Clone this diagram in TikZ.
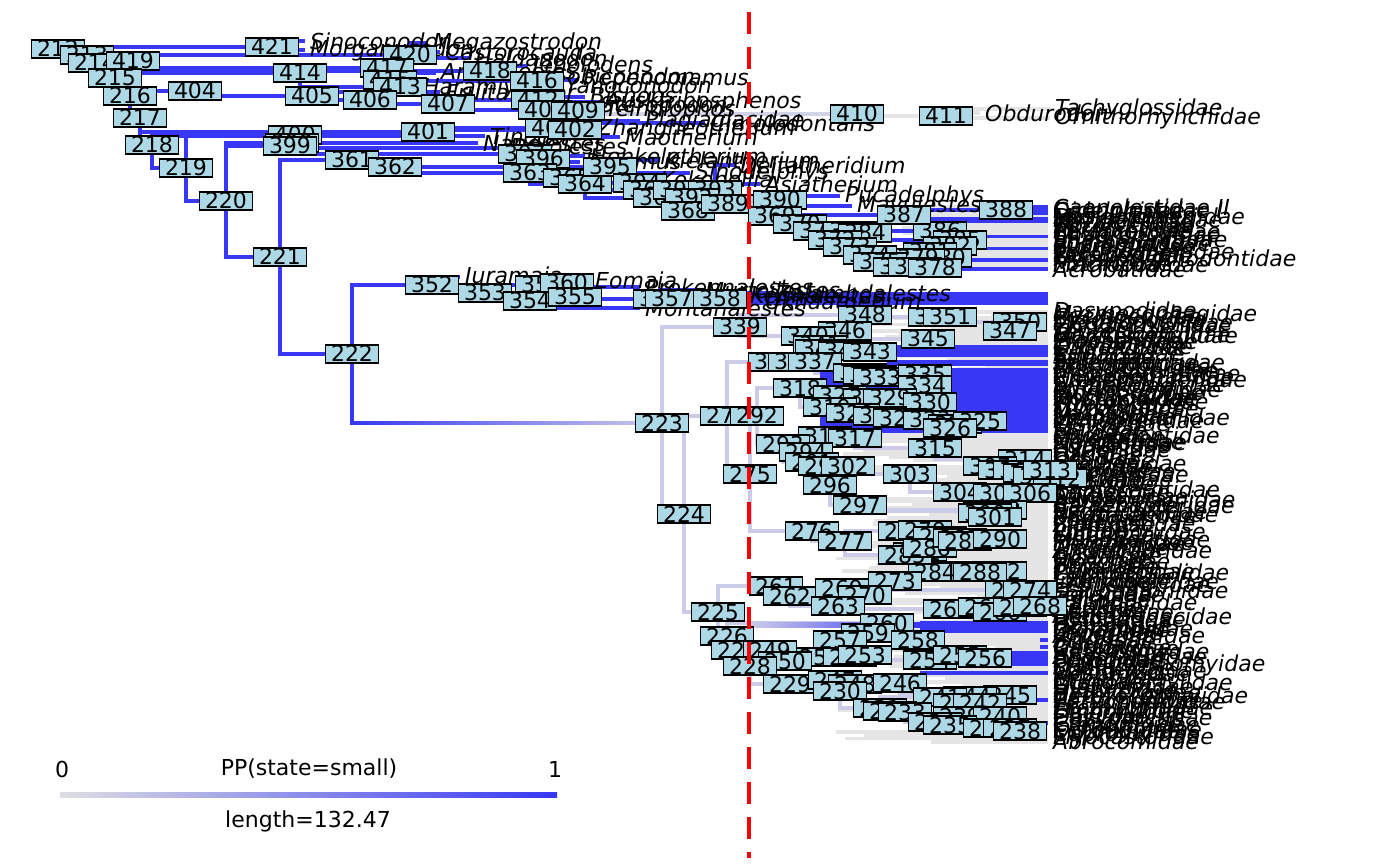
\documentclass[tikz,border=0pt]{standalone}
\usepackage{fontspec}
\setmainfont{DejaVu Sans}
\usetikzlibrary{calc}
\definecolor{blu}{RGB}{55,55,245}
\definecolor{lav}{RGB}{204,204,232}
\definecolor{gry}{RGB}{229,229,229}
\definecolor{lgr}{RGB}{222,222,226}
\definecolor{lb}{RGB}{173,216,230}
\definecolor{rdd}{RGB}{250,0,0}
\newcommand\nlfont{\fontsize{22}{22}\selectfont}
\newcommand\tipfont{\fontsize{22}{22}\selectfont\itshape}
\newcommand\legfont{\fontsize{22}{22}\selectfont}
\def\mynodes{212/58/49, 213/87/55, 214/95/63, 419/133/61, 215/115/78, 216/130/96, 404/195/91, 217/140/118, 218/152/145, 219/186/168, 220/226/201, 221/280/257, 222/352/354, 421/272/47, 420/410/55, 414/300/73, 417/387/68, 415/390/80, 413/400/87, 418/490/71, 416/537/81, 405/312/96, 406/370/100, 407/448/104, 412/538/100, 408/545/110, 409/578/111, 403/552/128, 402/575/130, 401/428/132, 400/295/135, 398/292/143, 399/290/146, 361/352/160, 397/525/154, 396/543/159, 362/395/167, 363/530/173, 365/570/178, 364/585/184, 395/610/167, 394/640/183, 366/650/190, 367/660/198, 391/680/190, 393/715/190, 392/692/198, 368/688/211, 389/728/204, 390/780/200, 369/775/216, 370/800/224, 371/820/231, 383/850/231, 384/865/233, 386/940/231, 385/960/240, 382/950/246, 381/930/252, 380/945/258, 379/918/258, 387/904/215, 388/1006/210, 372/835/240, 373/850/247, 374/870/255, 375/880/262, 376/900/267, 377/915/267, 378/935/268, 410/857/114, 411/946/116, 352/432/285, 353/485/293, 359/542/285, 360/567/283, 354/530/301, 355/575/297, 356/660/299, 357/672/299, 358/720/299, 223/662/423, 224/684/514, 225/718/612, 339/740/327, 348/865/315, 349/935/317, 351/950/317, 350/1020/322, 347/1010/331, 345/928/339, 346/845/331, 340/808/336, 341/820/345, 344/822/349, 342/845/351, 343/870/352, 338/775/362, 336/795/362, 337/815/362, 331/860/373, 332/870/375, 333/880/377, 335/925/374, 334/925/385, 318/800/388, 327/840/395, 328/870/398, 329/890/398, 330/930/402, 319/830/407, 320/853/413, 321/880/416, 322/900/418, 323/930/420, 324/955/424, 325/980/421, 326/950/428, 272/727/416, 292/757/416, 316/825/436, 317/855/438, 293/783/444, 294/806/452, 315/935/448, 314/1025/459, 291/812/462, 295/825/466, 302/848/466, 307/990/466, 308/1005/470, 309/1020/470, 310/1030/473, 311/1040/476, 312/1060/478, 313/1050/470, 275/750/474, 303/910/474, 296/830/485, 304/960/492, 305/1000/493, 306/1030/493, 297/860/505, 298/1000/510, 299/990/511, 300/985/513, 301/995/517, 276/812/531, 277/845/541, 278/905/531, 279/925/530, 280/940/536, 281/920/552, 282/1000/571, 283/960/571, 284/935/572, 285/905/555, 286/930/548, 287/960/538, 288/980/572, 289/965/541, 290/1000/539, 273/895/581, 261/776/586, 262/790/596, 269/842/588, 270/865/595, 271/1012/590, 274/1030/590, 263/838/606, 264/950/609, 265/985/607, 266/1000/612, 267/1020/607, 268/1040/606, 260/887/623, 226/727/636, 259/868/633, 258/918/640, 257/840/640, 251/820/657, 252/850/657, 253/865/655, 254/930/660, 255/960/655, 256/985/658, 227/738/650, 249/770/650, 250/785/661, 228/750/666, 229/790/684, 247/835/680, 248/855/684, 246/900/683, 230/840/691, 245/1010/695, 244/970/696, 241/940/697, 243/960/703, 242/980/703, 231/880/708, 232/890/711, 233/905/712, 239/960/716, 240/1000/716, 234/935/722, 235/950/725, 236/990/728, 237/1010/728, 238/1020/731}
\def\myblueedges{212/421, 212/213, 213/420, 213/214, 214/419, 214/215, 419/418, 419/417, 417/415, 415/416, 215/414, 215/216, 414/413, 216/404, 216/217, 404/405, 405/406, 406/407, 407/412, 407/408, 408/409, 217/401, 217/218, 401/403, 401/402, 218/219, 219/400, 219/220, 220/398, 220/399, 220/221, 399/397, 397/396, 221/361, 221/222, 361/362, 362/363, 362/395, 395/394, 394/393, 393/390, 363/365, 363/364, 364/366, 364/367, 367/391, 367/392, 392/368, 392/389, 390/369, 369/370, 369/387, 387/388, 370/371, 370/383, 371/372, 372/373, 373/374, 374/375, 375/376, 376/377, 377/378, 383/384, 384/386, 384/385, 385/382, 382/381, 381/380, 380/379, 222/352, 352/353, 353/359, 353/354, 359/360, 354/355, 355/356, 355/357, 357/358, 222/223}
\def\mylavedges{223/339, 223/224, 339/348, 339/340, 348/349, 348/345, 349/351, 351/350, 350/347, 340/346, 340/341, 341/344, 344/342, 344/343, 224/272, 224/225, 272/338, 272/275, 338/336, 338/337, 337/331, 331/332, 332/333, 333/335, 333/334, 275/292, 275/276, 292/318, 292/293, 318/319, 318/327, 327/328, 328/329, 329/330, 319/320, 320/321, 321/322, 322/323, 323/324, 324/325, 323/326, 293/316, 293/294, 293/291, 316/317, 317/315, 315/314, 314/313, 313/312, 313/307, 307/308, 308/309, 309/310, 310/311, 294/295, 295/302, 295/296, 302/303, 303/304, 304/305, 305/306, 296/297, 297/298, 297/299, 299/300, 300/301, 276/277, 277/278, 278/279, 279/280, 280/287, 287/289, 289/290, 277/285, 285/286, 285/281, 281/284, 284/283, 283/288, 288/282, 225/261, 225/226, 261/262, 262/269, 269/270, 269/273, 262/263, 263/264, 264/265, 265/266, 266/267, 267/268, 270/271, 271/274, 226/260, 226/227, 260/259, 259/258, 259/257, 227/249, 227/228, 249/250, 250/251, 251/252, 252/253, 253/254, 254/255, 255/256, 228/229, 229/247, 229/230, 247/248, 248/246, 246/245, 230/231, 231/232, 232/233, 233/234, 234/235, 235/236, 236/237, 237/238, 233/239, 239/240, 231/241, 241/244, 241/243, 243/242}
\def\mytoptips{Sinoconodon/421/305/41, Morganucodon/421/305/50, Megazostrodon/420/428/43, Castorocauda/420/440/52, Haldanodon/420/470/58, Jeholodens/418/528/66, Gobiconodon/418/545/76, Amphilestes/415/436/73, Repenomamus/416/578/80, Yanoconodon/416/560/85, Haramiyavia/413/418/88, Fruitafossor/405/440/92, Bishops/412/585/97, Ausktribosphenos/412/600/102, Steropodon/409/595/106, Teinolophos/409/600/110, Plagiaulacidae/403/640/121, Cimolodontans/403/705/123, Zhangheotherium/402/592/129, Maotherium/402/620/137, Tinodon/218/485/136, Nanolestes/400/478/143, Dryolestes/399/505/148, Henkelotherium/396/585/156, Peramus/396/580/162, Kielantherium/395/660/160, Kokopellia/366/655/181, Sinodelphys/365/690/173, Deltatheridium/393/735/165, Asiatherium/391/760/184, Pucadelphys/390/840/196, Mayulestes/390/852/206, Juramaia/352/460/277, Eomaia/360/590/280, Prokennalestes/359/640/287, Murtoilestes/356/700/290, Kennalestes/357/745/295, Zalambdalestes/358/770/293, Ukhaatherium/358/760/301, Montanalestes/354/640/308}
\def\mymars{Caenolestidae II, Caenolestidae I, Didelphidae, Microbiotheriidae, Dasyuridae, Myrmecobiidae, Thylacinidae, Notoryctidae, Peramelidae, Thylacomyidae, Chaeropodidae, Phascolarctidae, Vombatidae, Phalangeridae, Burramyidae, Pseudocheiridae, Petauridae, Tarsipedidae, Hypsiprymnodontidae, Potoroidae, Macropodidae, Acrobatidae}
\def\myplac{Dasypodidae, Myrmecophagidae, Cyclopedidae, Bradypodidae, Megalonychidae, Chrysochloridae, Tenrecidae, Macroscelididae, Orycteropodidae, Procaviidae, Elephantidae, Trichechidae, Dugongidae, Erinaceidae, Soricidae, Talpidae, Solenodontidae, Pteropodidae, Rhinolophidae, Hipposideridae, Megadermatidae, Rhinopomatidae, Craseonycteridae, Emballonuridae, Nycteridae, Phyllostomidae, Mormoopidae, Noctilionidae, Mystacinidae, Thyropteridae, Furipteridae, Myzopodidae, Natalidae, Molossidae, Vespertilionidae, Miniopteridae, Cistugidae, Manidae, Felidae, Prionodontidae, Viverridae, Nandiniidae, Herpestidae, Eupleridae, Hyaenidae, Canidae, Ursidae, Otariidae, Odobenidae, Phocidae, Ailuridae, Mephitidae, Procyonidae, Mustelidae, Equidae, Tapiridae, Rhinocerotidae, Camelidae, Suidae, Tayassuidae, Hippopotamidae, Balaenidae, Balaenopteridae, Eschrichtiidae, Neobalaenidae, Physeteridae, Kogiidae, Platanistidae, Ziphiidae, Iniidae, Pontoporiidae, Lipotidae, Monodontidae, Phocoenidae, Delphinidae, Tragulidae, Antilocapridae, Giraffidae, Cervidae, Moschidae, Bovidae, Tupaiidae, Ptilocercidae, Cynocephalidae, Lemuridae, Indriidae, Cheirogaleidae, Lepilemuridae, Daubentoniidae, Lorisidae, Galagidae, Tarsiidae, Callitrichidae, Cebidae, Aotidae, Pitheciidae, Atelidae, Cercopithecidae, Hylobatidae, Hominidae, Ochotonidae, Prolagidae, Leporidae, Aplodontiidae, Sciuridae, Gliridae, Castoridae, Geomyidae, Heteromyidae, Anomaluridae, Pedetidae, Dipodidae, Platacanthomyidae, Spalacidae, Calomyscidae, Nesomyidae, Cricetidae, Muridae, Ctenodactylidae, Diatomyidae, Hystricidae, Bathyergidae, Heterocephalidae, Petromuridae, Thryonomyidae, Erethizontidae, Chinchillidae, Dinomyidae, Caviidae, Dasyproctidae, Cuniculidae, Ctenomyidae, Octodontidae, Echimyidae, Capromyidae, Myocastoridae, Abrocomidae}
\begin{document}
\begin{tikzpicture}[x=1pt,y=-1pt,
  nl/.style={draw=black,line width=1.4pt,fill=lb,font=\nlfont,inner xsep=5.5pt,inner ysep=1pt,text height=16pt,text depth=0pt},
  tp/.style={anchor=west,font=\tipfont,inner sep=0pt,xshift=5pt},
  bb/.style={draw=blu,line width=3.5pt},
  lv/.style={draw=lav,line width=3.5pt},
  gy/.style={draw=gry,line width=3.7pt},
  leg/.style={font=\legfont,inner sep=0pt}]
\useasboundingbox (0,0) rectangle (1400,866);
\pgfmathsetseed{11}
% node positions
\foreach \n/\x/\y in \mynodes { \coordinate (n\n) at (\x,\y); }
% placental tip lines (grey)
\foreach \nm [count=\i] in \myplac {
  \pgfmathsetmacro\yy{312+(\i-1)*3.16}
  \pgfmathsetmacro\xs{835+165*rnd}
  \coordinate (ps\i) at (\xs,\yy);
  \coordinate (pt\i) at (1048,\yy);
  \draw[gy] (ps\i) -- (pt\i);
}
% marsupial tip lines
\foreach \nm [count=\i] in \mymars {
  \pgfmathsetmacro\yy{207+(\i-1)*2.95}
  \pgfmathsetmacro\xs{880+110*rnd}
  \coordinate (ms\i) at (\xs,\yy);
  \coordinate (mt\i) at (1048,\yy);
  \draw[gy] (ms\i) -- (mt\i);
}
\foreach \i/\xs in {1/985, 2/985, 3/990, 5/905, 6/905, 11/950, 15/960, 19/940, 22/900} {
  \draw[bb] (\xs,0 |- mt\i) -- (mt\i);
}
% lower clade edges
\foreach \p/\c in \mylavedges { \draw[lv] (n\p) |- (n\c); }
% blue bands (small-bodied tips)
\foreach \ya/\yb/\xs in {345/357/887, 360/366/887, 368/372/800, 372/433/820, 588/592/1017, 598/602/1017, 621/633/920, 638/642/1040, 645/649/1040, 651/666/987, 671/675/920, 698/702/1013, 721/725/1033, 292/305/744} {
  \fill[blu] (\xs,\ya) rectangle (1048,\yb);
}
\shade[left color=lav,right color=blu] (750,622) rectangle (920,627);
% upper clade edges
\foreach \p/\c in \myblueedges { \draw[bb] (n\p) |- (n\c); }
\path (n222 |- n223) coordinate (g1);
\shade[left color=blu,right color=lav] ($(g1)+(1.75,-1.75)$) rectangle ($(n223)+(0,1.75)$);
\foreach \nm/\p/\x/\y in \mytoptips {
  \coordinate (t\nm) at (\x,\y);
  \draw[bb] (n\p) |- (t\nm);
}
% monotremes
\draw[draw=lav!70!gry,line width=3.5pt] (n408) |- (n410);
\draw[gy] (n410) |- (n411);
\coordinate (tObdurodon) at (980,113);
\coordinate (tTachyglossidae) at (1050,109);
\coordinate (tOrnithorhynchidae) at (1050,118);
\draw[gy] (n411) |- (tObdurodon);
\draw[gy] (n411) |- (tTachyglossidae);
\draw[gy] (n411) |- (tOrnithorhynchidae);
% tip labels
\foreach \nm/\p/\x/\y in \mytoptips { \node[tp] (T\nm) at (t\nm) {\nm}; }
\node[tp] (TObdurodon) at (tObdurodon) {Obdurodon};
\node[tp] (TTachyglossidae) at (tTachyglossidae) {Tachyglossidae};
\node[tp] (TOrnithorhynchidae) at (tOrnithorhynchidae) {Ornithorhynchidae};
\foreach \nm [count=\i] in \mymars { \node[tp] (M\i) at (mt\i) {\nm}; }
\foreach \nm [count=\i] in \myplac { \node[tp] (P\i) at (pt\i) {\nm}; }
% node labels
\foreach \n/\x/\y in \mynodes { \node[nl] (L\n) at (n\n) {\n}; }
% time line
\coordinate (r1) at (749,12);
\coordinate (r2) at (749,858);
\draw[rdd,line width=3.5pt,dash pattern=on 22pt off 13pt] (r1) -- (r2);
% legend
\node[leg] (L0) at (62,769) {0};
\node[leg] (Lpp) at (309,769) {PP(state=small)};
\node[leg] (L1) at (555,769) {1};
\coordinate (ga) at (60,795);
\coordinate (gb) at (557,795);
\shade[left color=lgr,right color=blu] ($(ga)+(0,-2.6)$) rectangle ($(gb)+(0,2.6)$);
\node[leg] (Llen) at (308,821) {length=132.47};
\end{tikzpicture}
\end{document}
